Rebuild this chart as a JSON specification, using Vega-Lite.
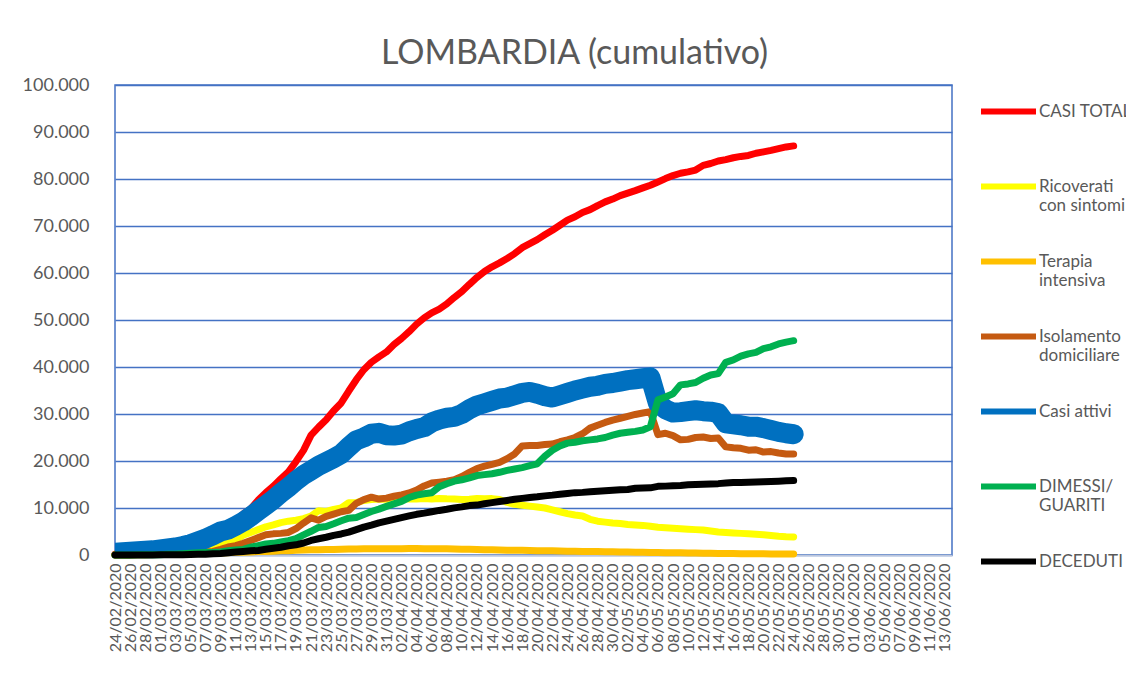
{
  "$schema": "https://vega.github.io/schema/vega-lite/v6.json",
  "width": 837,
  "height": 470,
  "padding": {"left": 22, "top": 37, "right": 5, "bottom": 5},
  "background": "white",
  "title": {"text": "LOMBARDIA (cumulativo)", "font": "Lato", "fontSize": 34, "fontWeight": "normal", "color": "#595959", "anchor": "middle", "dx": 41, "offset": 5},
  "data": {
    "values": [
      {"d":"2020-02-24","totali":172,"ricoverati":76,"terapia":19,"isolamento":70,"attivi":500,"dimessi":0,"deceduti":6},
      {"d":"2020-02-25","totali":240,"ricoverati":79,"terapia":25,"isolamento":120,"attivi":600,"dimessi":0,"deceduti":9},
      {"d":"2020-02-26","totali":258,"ricoverati":79,"terapia":25,"isolamento":140,"attivi":700,"dimessi":0,"deceduti":9},
      {"d":"2020-02-27","totali":403,"ricoverati":172,"terapia":41,"isolamento":140,"attivi":800,"dimessi":40,"deceduti":14},
      {"d":"2020-02-28","totali":531,"ricoverati":235,"terapia":47,"isolamento":190,"attivi":900,"dimessi":40,"deceduti":17},
      {"d":"2020-02-29","totali":615,"ricoverati":256,"terapia":80,"isolamento":220,"attivi":1000,"dimessi":40,"deceduti":23},
      {"d":"2020-03-01","totali":984,"ricoverati":406,"terapia":106,"isolamento":370,"attivi":1200,"dimessi":66,"deceduti":31},
      {"d":"2020-03-02","totali":1254,"ricoverati":478,"terapia":127,"isolamento":470,"attivi":1400,"dimessi":139,"deceduti":38},
      {"d":"2020-03-03","totali":1520,"ricoverati":698,"terapia":167,"isolamento":460,"attivi":1600,"dimessi":139,"deceduti":55},
      {"d":"2020-03-04","totali":1820,"ricoverati":877,"terapia":209,"isolamento":410,"attivi":1900,"dimessi":250,"deceduti":73},
      {"d":"2020-03-05","totali":2251,"ricoverati":1050,"terapia":244,"isolamento":370,"attivi":2300,"dimessi":376,"deceduti":98},
      {"d":"2020-03-06","totali":2612,"ricoverati":1300,"terapia":309,"isolamento":300,"attivi":2900,"dimessi":469,"deceduti":135},
      {"d":"2020-03-07","totali":3420,"ricoverati":1500,"terapia":359,"isolamento":700,"attivi":3500,"dimessi":524,"deceduti":154},
      {"d":"2020-03-08","totali":4189,"ricoverati":1800,"terapia":399,"isolamento":750,"attivi":4200,"dimessi":550,"deceduti":267},
      {"d":"2020-03-09","totali":5469,"ricoverati":2200,"terapia":440,"isolamento":1200,"attivi":5000,"dimessi":646,"deceduti":333},
      {"d":"2020-03-10","totali":5791,"ricoverati":2600,"terapia":466,"isolamento":1700,"attivi":5400,"dimessi":900,"deceduti":468},
      {"d":"2020-03-11","totali":7280,"ricoverati":3200,"terapia":560,"isolamento":2000,"attivi":6200,"dimessi":1085,"deceduti":617},
      {"d":"2020-03-12","totali":8725,"ricoverati":4200,"terapia":605,"isolamento":2500,"attivi":7100,"dimessi":1198,"deceduti":744},
      {"d":"2020-03-13","totali":9820,"ricoverati":4800,"terapia":650,"isolamento":3100,"attivi":8200,"dimessi":1660,"deceduti":890},
      {"d":"2020-03-14","totali":11685,"ricoverati":5400,"terapia":732,"isolamento":3700,"attivi":9400,"dimessi":2011,"deceduti":966},
      {"d":"2020-03-15","totali":13272,"ricoverati":6000,"terapia":767,"isolamento":4300,"attivi":10600,"dimessi":2368,"deceduti":1218},
      {"d":"2020-03-16","totali":14649,"ricoverati":6400,"terapia":823,"isolamento":4500,"attivi":11800,"dimessi":2485,"deceduti":1420},
      {"d":"2020-03-17","totali":16220,"ricoverati":6900,"terapia":879,"isolamento":4600,"attivi":13200,"dimessi":2789,"deceduti":1640},
      {"d":"2020-03-18","totali":17713,"ricoverati":7200,"terapia":924,"isolamento":4800,"attivi":14400,"dimessi":3068,"deceduti":1959},
      {"d":"2020-03-19","totali":19884,"ricoverati":7400,"terapia":1006,"isolamento":5600,"attivi":15800,"dimessi":3488,"deceduti":2168},
      {"d":"2020-03-20","totali":22264,"ricoverati":7735,"terapia":1050,"isolamento":6800,"attivi":17000,"dimessi":4295,"deceduti":2549},
      {"d":"2020-03-21","totali":25515,"ricoverati":8258,"terapia":1093,"isolamento":7900,"attivi":18000,"dimessi":5050,"deceduti":3095},
      {"d":"2020-03-22","totali":27206,"ricoverati":9439,"terapia":1142,"isolamento":7400,"attivi":19000,"dimessi":5865,"deceduti":3456},
      {"d":"2020-03-23","totali":28761,"ricoverati":9266,"terapia":1183,"isolamento":8200,"attivi":19800,"dimessi":6075,"deceduti":3776},
      {"d":"2020-03-24","totali":30703,"ricoverati":9711,"terapia":1194,"isolamento":8700,"attivi":20600,"dimessi":6657,"deceduti":4178},
      {"d":"2020-03-25","totali":32346,"ricoverati":10026,"terapia":1236,"isolamento":9200,"attivi":21500,"dimessi":7281,"deceduti":4474},
      {"d":"2020-03-26","totali":34889,"ricoverati":11137,"terapia":1263,"isolamento":9500,"attivi":23000,"dimessi":7839,"deceduti":4861},
      {"d":"2020-03-27","totali":37298,"ricoverati":11152,"terapia":1292,"isolamento":11000,"attivi":24400,"dimessi":8001,"deceduti":5402},
      {"d":"2020-03-28","totali":39415,"ricoverati":11613,"terapia":1319,"isolamento":11800,"attivi":25000,"dimessi":8620,"deceduti":5944},
      {"d":"2020-03-29","totali":41007,"ricoverati":11815,"terapia":1328,"isolamento":12300,"attivi":25800,"dimessi":9255,"deceduti":6360},
      {"d":"2020-03-30","totali":42161,"ricoverati":11914,"terapia":1330,"isolamento":11900,"attivi":26000,"dimessi":9771,"deceduti":6818},
      {"d":"2020-03-31","totali":43208,"ricoverati":11883,"terapia":1324,"isolamento":12100,"attivi":25500,"dimessi":10337,"deceduti":7199},
      {"d":"2020-04-01","totali":44773,"ricoverati":12009,"terapia":1342,"isolamento":12500,"attivi":25400,"dimessi":10885,"deceduti":7593},
      {"d":"2020-04-02","totali":46065,"ricoverati":12077,"terapia":1351,"isolamento":12800,"attivi":25600,"dimessi":11415,"deceduti":7960},
      {"d":"2020-04-03","totali":47520,"ricoverati":11927,"terapia":1381,"isolamento":13200,"attivi":26300,"dimessi":12229,"deceduti":8311},
      {"d":"2020-04-04","totali":49118,"ricoverati":11921,"terapia":1357,"isolamento":13800,"attivi":26800,"dimessi":12741,"deceduti":8656},
      {"d":"2020-04-05","totali":50455,"ricoverati":12002,"terapia":1343,"isolamento":14700,"attivi":27200,"dimessi":13020,"deceduti":8905},
      {"d":"2020-04-06","totali":51534,"ricoverati":11914,"terapia":1338,"isolamento":15300,"attivi":28200,"dimessi":13242,"deceduti":9202},
      {"d":"2020-04-07","totali":52325,"ricoverati":12026,"terapia":1343,"isolamento":15500,"attivi":28800,"dimessi":14498,"deceduti":9484},
      {"d":"2020-04-08","totali":53414,"ricoverati":11950,"terapia":1305,"isolamento":15700,"attivi":29200,"dimessi":15147,"deceduti":9722},
      {"d":"2020-04-09","totali":54802,"ricoverati":11914,"terapia":1263,"isolamento":16000,"attivi":29400,"dimessi":15706,"deceduti":10022},
      {"d":"2020-04-10","totali":56048,"ricoverati":11833,"terapia":1236,"isolamento":16700,"attivi":30000,"dimessi":16000,"deceduti":10238},
      {"d":"2020-04-11","totali":57592,"ricoverati":11872,"terapia":1202,"isolamento":17600,"attivi":31000,"dimessi":16400,"deceduti":10511},
      {"d":"2020-04-12","totali":59052,"ricoverati":12026,"terapia":1174,"isolamento":18400,"attivi":31800,"dimessi":16900,"deceduti":10621},
      {"d":"2020-04-13","totali":60314,"ricoverati":11953,"terapia":1143,"isolamento":18900,"attivi":32300,"dimessi":17100,"deceduti":10901},
      {"d":"2020-04-14","totali":61326,"ricoverati":12000,"terapia":1117,"isolamento":19300,"attivi":32800,"dimessi":17300,"deceduti":11142},
      {"d":"2020-04-15","totali":62153,"ricoverati":11800,"terapia":1074,"isolamento":19700,"attivi":33300,"dimessi":17600,"deceduti":11377},
      {"d":"2020-04-16","totali":63094,"ricoverati":11200,"terapia":1032,"isolamento":20500,"attivi":33500,"dimessi":18000,"deceduti":11608},
      {"d":"2020-04-17","totali":64135,"ricoverati":10800,"terapia":1006,"isolamento":21500,"attivi":34000,"dimessi":18300,"deceduti":11851},
      {"d":"2020-04-18","totali":65381,"ricoverati":10600,"terapia":985,"isolamento":23200,"attivi":34500,"dimessi":18600,"deceduti":12050},
      {"d":"2020-04-19","totali":66236,"ricoverati":10400,"terapia":956,"isolamento":23300,"attivi":34700,"dimessi":19000,"deceduti":12213},
      {"d":"2020-04-20","totali":67098,"ricoverati":10200,"terapia":929,"isolamento":23300,"attivi":34300,"dimessi":19400,"deceduti":12376},
      {"d":"2020-04-21","totali":68124,"ricoverati":10000,"terapia":899,"isolamento":23500,"attivi":33800,"dimessi":21000,"deceduti":12579},
      {"d":"2020-04-22","totali":69092,"ricoverati":9600,"terapia":879,"isolamento":23600,"attivi":33500,"dimessi":22300,"deceduti":12740},
      {"d":"2020-04-23","totali":70161,"ricoverati":9200,"terapia":854,"isolamento":24100,"attivi":34000,"dimessi":23200,"deceduti":12940},
      {"d":"2020-04-24","totali":71256,"ricoverati":8800,"terapia":819,"isolamento":24500,"attivi":34500,"dimessi":23800,"deceduti":13106},
      {"d":"2020-04-25","totali":71969,"ricoverati":8500,"terapia":784,"isolamento":25000,"attivi":35000,"dimessi":24000,"deceduti":13269},
      {"d":"2020-04-26","totali":72889,"ricoverati":8300,"terapia":756,"isolamento":25800,"attivi":35400,"dimessi":24300,"deceduti":13325},
      {"d":"2020-04-27","totali":73479,"ricoverati":7600,"terapia":743,"isolamento":27000,"attivi":35800,"dimessi":24500,"deceduti":13449},
      {"d":"2020-04-28","totali":74348,"ricoverati":7200,"terapia":721,"isolamento":27600,"attivi":36000,"dimessi":24700,"deceduti":13575},
      {"d":"2020-04-29","totali":75134,"ricoverati":7000,"terapia":704,"isolamento":28200,"attivi":36400,"dimessi":25000,"deceduti":13679},
      {"d":"2020-04-30","totali":75732,"ricoverati":6800,"terapia":677,"isolamento":28700,"attivi":36600,"dimessi":25500,"deceduti":13772},
      {"d":"2020-05-01","totali":76469,"ricoverati":6700,"terapia":652,"isolamento":29100,"attivi":36900,"dimessi":25900,"deceduti":13860},
      {"d":"2020-05-02","totali":77002,"ricoverati":6500,"terapia":619,"isolamento":29500,"attivi":37200,"dimessi":26100,"deceduti":13938},
      {"d":"2020-05-03","totali":77528,"ricoverati":6400,"terapia":602,"isolamento":29900,"attivi":37400,"dimessi":26300,"deceduti":14189},
      {"d":"2020-05-04","totali":78105,"ricoverati":6300,"terapia":569,"isolamento":30200,"attivi":37600,"dimessi":26600,"deceduti":14231},
      {"d":"2020-05-05","totali":78677,"ricoverati":6100,"terapia":549,"isolamento":30500,"attivi":37800,"dimessi":27300,"deceduti":14294},
      {"d":"2020-05-06","totali":79369,"ricoverati":5900,"terapia":522,"isolamento":25600,"attivi":32300,"dimessi":33000,"deceduti":14611},
      {"d":"2020-05-07","totali":80089,"ricoverati":5800,"terapia":491,"isolamento":25900,"attivi":31000,"dimessi":33600,"deceduti":14654},
      {"d":"2020-05-08","totali":80723,"ricoverati":5700,"terapia":473,"isolamento":25400,"attivi":30300,"dimessi":34300,"deceduti":14745},
      {"d":"2020-05-09","totali":81225,"ricoverati":5600,"terapia":455,"isolamento":24500,"attivi":30400,"dimessi":36200,"deceduti":14809},
      {"d":"2020-05-10","totali":81507,"ricoverati":5500,"terapia":427,"isolamento":24600,"attivi":30600,"dimessi":36400,"deceduti":14924},
      {"d":"2020-05-11","totali":81908,"ricoverati":5400,"terapia":410,"isolamento":25000,"attivi":30800,"dimessi":36700,"deceduti":14986},
      {"d":"2020-05-12","totali":82904,"ricoverati":5300,"terapia":389,"isolamento":25100,"attivi":30600,"dimessi":37600,"deceduti":15054},
      {"d":"2020-05-13","totali":83298,"ricoverati":5100,"terapia":355,"isolamento":24800,"attivi":30500,"dimessi":38300,"deceduti":15116},
      {"d":"2020-05-14","totali":83820,"ricoverati":4900,"terapia":335,"isolamento":24900,"attivi":30200,"dimessi":38600,"deceduti":15185},
      {"d":"2020-05-15","totali":84119,"ricoverati":4800,"terapia":315,"isolamento":23000,"attivi":28000,"dimessi":41000,"deceduti":15296},
      {"d":"2020-05-16","totali":84518,"ricoverati":4700,"terapia":301,"isolamento":22800,"attivi":27800,"dimessi":41500,"deceduti":15403},
      {"d":"2020-05-17","totali":84804,"ricoverati":4600,"terapia":286,"isolamento":22700,"attivi":27600,"dimessi":42300,"deceduti":15411},
      {"d":"2020-05-18","totali":85019,"ricoverati":4500,"terapia":272,"isolamento":22300,"attivi":27300,"dimessi":42800,"deceduti":15453},
      {"d":"2020-05-19","totali":85481,"ricoverati":4400,"terapia":262,"isolamento":22400,"attivi":27300,"dimessi":43100,"deceduti":15519},
      {"d":"2020-05-20","totali":85775,"ricoverati":4300,"terapia":243,"isolamento":21900,"attivi":27000,"dimessi":43900,"deceduti":15597},
      {"d":"2020-05-21","totali":86091,"ricoverati":4150,"terapia":227,"isolamento":22000,"attivi":26600,"dimessi":44300,"deceduti":15662},
      {"d":"2020-05-22","totali":86471,"ricoverati":4000,"terapia":219,"isolamento":21700,"attivi":26200,"dimessi":44900,"deceduti":15705},
      {"d":"2020-05-23","totali":86825,"ricoverati":3900,"terapia":211,"isolamento":21500,"attivi":25900,"dimessi":45300,"deceduti":15777},
      {"d":"2020-05-24","totali":87042,"ricoverati":3850,"terapia":202,"isolamento":21500,"attivi":25700,"dimessi":45600,"deceduti":15840}
    ],
    "format": {"parse": {"d": "utc:'%Y-%m-%d'"}}
  },
  "transform": [
    {"fold": ["totali", "ricoverati", "terapia", "isolamento", "attivi", "dimessi", "deceduti"], "as": ["serie", "valore"]}
  ],
  "encoding": {
    "x": {
      "field": "d", "type": "temporal",
      "scale": {"type": "utc", "domain": [{"year": 2020, "month": 2, "date": 24, "utc": true}, {"year": 2020, "month": 6, "date": 14, "utc": true}]},
      "axis": {
        "title": null,
        "values": [
          {"year":2020,"month":2,"date":24,"utc":true},{"year":2020,"month":2,"date":26,"utc":true},{"year":2020,"month":2,"date":28,"utc":true},
          {"year":2020,"month":3,"date":1,"utc":true},{"year":2020,"month":3,"date":3,"utc":true},{"year":2020,"month":3,"date":5,"utc":true},{"year":2020,"month":3,"date":7,"utc":true},{"year":2020,"month":3,"date":9,"utc":true},{"year":2020,"month":3,"date":11,"utc":true},{"year":2020,"month":3,"date":13,"utc":true},{"year":2020,"month":3,"date":15,"utc":true},{"year":2020,"month":3,"date":17,"utc":true},{"year":2020,"month":3,"date":19,"utc":true},{"year":2020,"month":3,"date":21,"utc":true},{"year":2020,"month":3,"date":23,"utc":true},{"year":2020,"month":3,"date":25,"utc":true},{"year":2020,"month":3,"date":27,"utc":true},{"year":2020,"month":3,"date":29,"utc":true},{"year":2020,"month":3,"date":31,"utc":true},
          {"year":2020,"month":4,"date":2,"utc":true},{"year":2020,"month":4,"date":4,"utc":true},{"year":2020,"month":4,"date":6,"utc":true},{"year":2020,"month":4,"date":8,"utc":true},{"year":2020,"month":4,"date":10,"utc":true},{"year":2020,"month":4,"date":12,"utc":true},{"year":2020,"month":4,"date":14,"utc":true},{"year":2020,"month":4,"date":16,"utc":true},{"year":2020,"month":4,"date":18,"utc":true},{"year":2020,"month":4,"date":20,"utc":true},{"year":2020,"month":4,"date":22,"utc":true},{"year":2020,"month":4,"date":24,"utc":true},{"year":2020,"month":4,"date":26,"utc":true},{"year":2020,"month":4,"date":28,"utc":true},{"year":2020,"month":4,"date":30,"utc":true},
          {"year":2020,"month":5,"date":2,"utc":true},{"year":2020,"month":5,"date":4,"utc":true},{"year":2020,"month":5,"date":6,"utc":true},{"year":2020,"month":5,"date":8,"utc":true},{"year":2020,"month":5,"date":10,"utc":true},{"year":2020,"month":5,"date":12,"utc":true},{"year":2020,"month":5,"date":14,"utc":true},{"year":2020,"month":5,"date":16,"utc":true},{"year":2020,"month":5,"date":18,"utc":true},{"year":2020,"month":5,"date":20,"utc":true},{"year":2020,"month":5,"date":22,"utc":true},{"year":2020,"month":5,"date":24,"utc":true},{"year":2020,"month":5,"date":26,"utc":true},{"year":2020,"month":5,"date":28,"utc":true},{"year":2020,"month":5,"date":30,"utc":true},
          {"year":2020,"month":6,"date":1,"utc":true},{"year":2020,"month":6,"date":3,"utc":true},{"year":2020,"month":6,"date":5,"utc":true},{"year":2020,"month":6,"date":7,"utc":true},{"year":2020,"month":6,"date":9,"utc":true},{"year":2020,"month":6,"date":11,"utc":true},{"year":2020,"month":6,"date":13,"utc":true}
        ],
        "labelExpr": "utcFormat(datum.value, '%d/%m/%Y')",
        "labelAngle": 270,
        "labelFont": "Lato",
        "labelFontSize": 16,
        "labelColor": "#595959",
        "labelPadding": 8,
        "labelOverlap": false,
        "labelFlush": false,
        "ticks": false,
        "grid": false,
        "domainColor": "#BCC6DC",
        "domainWidth": 1.5
      }
    },
    "y": {
      "field": "valore", "type": "quantitative",
      "scale": {"domain": [0, 100000], "nice": false, "zero": true},
      "axis": {
        "title": null,
        "values": [0, 10000, 20000, 30000, 40000, 50000, 60000, 70000, 80000, 90000, 100000],
        "labelExpr": "replace(format(datum.value, ','), ',', '.')",
        "labelFont": "Lato",
        "labelFontSize": 18,
        "labelColor": "#595959",
        "labelPadding": 26,
        "domain": false,
        "ticks": false,
        "gridColor": "#4472C4",
        "gridWidth": 1.5
      }
    },
    "color": {
      "field": "serie", "type": "nominal",
      "scale": {
        "domain": ["totali", "ricoverati", "terapia", "isolamento", "attivi", "dimessi", "deceduti"],
        "range": ["#FF0000", "#FFFF00", "#FFC000", "#C55A11", "#0070C0", "#00B050", "#000000"]
      },
      "legend": {
        "title": null,
        "orient": "none",
        "legendX": 863,
        "legendY": -4,
        "padding": 0,
        "symbolType": "stroke",
        "symbolSize": 3025,
        "symbolStrokeWidth": 6,
        "labelFont": "Lato",
        "labelFontSize": 17,
        "labelColor": "#595959",
        "labelOffset": 0,
        "labelLimit": 300,
        "rowPadding": 17,
        "labelExpr": "({'totali': ['CASI TOTALI', ''], 'ricoverati': ['Ricoverati', 'con sintomi'], 'terapia': ['Terapia', 'intensiva'], 'isolamento': ['Isolamento', 'domiciliare'], 'attivi': ['Casi attivi', ''], 'dimessi': ['DIMESSI/', 'GUARITI'], 'deceduti': ['DECEDUTI', '']})[datum.value]"
      }
    }
  },
  "layer": [
    {
      "transform": [{"filter": {"field": "serie", "oneOf": ["totali", "ricoverati", "terapia", "isolamento"]}}],
      "mark": {"type": "line", "strokeWidth": 7, "strokeCap": "round", "strokeJoin": "round"}
    },
    {
      "transform": [{"filter": {"field": "serie", "equal": "attivi"}}],
      "mark": {"type": "line", "strokeWidth": 20, "strokeCap": "round", "strokeJoin": "round", "clip": true}
    },
    {
      "transform": [{"filter": {"field": "serie", "oneOf": ["dimessi", "deceduti"]}}],
      "mark": {"type": "line", "strokeWidth": 7, "strokeCap": "round", "strokeJoin": "round"}
    }
  ],
  "config": {
    "view": {"stroke": "#4472C4", "strokeWidth": 1.5},
    "font": "Lato"
  }
}
